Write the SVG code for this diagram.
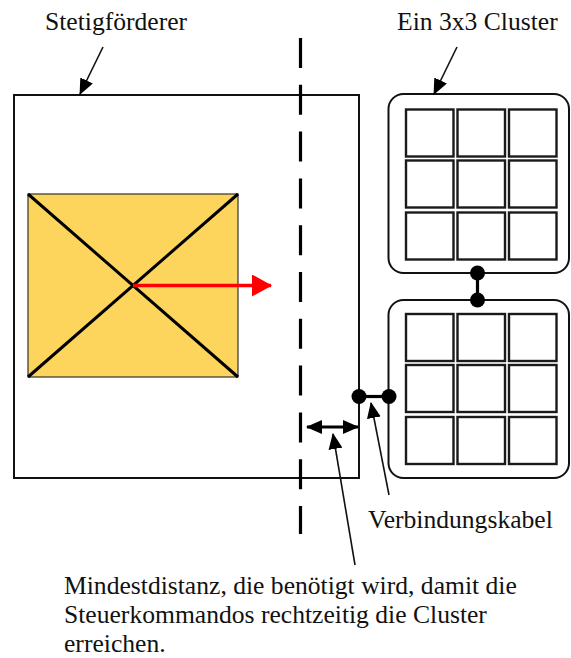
<svg xmlns="http://www.w3.org/2000/svg" width="571" height="658" viewBox="0 0 571 658">
  <style>
    text { font-family: "Liberation Serif", "DejaVu Serif", "Times New Roman", serif; }
    .lbl { font-size: 25.6px; fill: #111; }
    .frame { fill: #fff; stroke: #111; stroke-width: 2; }
    .cell { fill: #fff; stroke: #1a1a1a; stroke-width: 2.4; }
    .ptr { fill: none; stroke: #111; stroke-width: 1.6; }
    .bold { fill: none; stroke: #000; stroke-width: 3.2; }
    .dot { fill: #000; }
  </style>
  <defs>
    <marker id="head" viewBox="0 0 16 14" refX="15" refY="7" markerWidth="16" markerHeight="14" markerUnits="userSpaceOnUse" orient="auto-start-reverse">
      <path d="M0,0 L16,7 L0,14 z" fill="#000"/>
    </marker>
    <marker id="redhead" viewBox="0 0 20 22" refX="19" refY="11" markerWidth="20" markerHeight="22" markerUnits="userSpaceOnUse" orient="auto">
      <path d="M0,0 L20,11 L0,22 z" fill="#ff0000"/>
    </marker>
    <g id="grid">
      <rect class="cell" x="0" y="0" width="47.5" height="47"/>
      <rect class="cell" x="51.5" y="0" width="47.5" height="47"/>
      <rect class="cell" x="103" y="0" width="47.5" height="47"/>
      <rect class="cell" x="0" y="51" width="47.5" height="47"/>
      <rect class="cell" x="51.5" y="51" width="47.5" height="47"/>
      <rect class="cell" x="103" y="51" width="47.5" height="47"/>
      <rect class="cell" x="0" y="103" width="47.5" height="47"/>
      <rect class="cell" x="51.5" y="103" width="47.5" height="47"/>
      <rect class="cell" x="103" y="103" width="47.5" height="47"/>
    </g>
  </defs>

  <rect width="571" height="658" fill="#fff"/>

  <!-- conveyor -->
  <g id="conveyor">
    <rect class="frame" x="14" y="95" width="345" height="383"/>
    <g id="load">
      <rect x="28" y="194" width="210" height="183" fill="#fdd55d" stroke="#333" stroke-width="1.2"/>
      <line x1="28" y1="194" x2="238" y2="377" stroke="#000" stroke-width="3"/>
      <line x1="238" y1="194" x2="28" y2="377" stroke="#000" stroke-width="3"/>
    </g>
    <line x1="133" y1="285.5" x2="271" y2="285.5" stroke="#ff0000" stroke-width="3.5" marker-end="url(#redhead)"/>
  </g>

  <!-- boundary line -->
  <g id="boundary">
    <line x1="300.5" y1="38" x2="300.5" y2="534" stroke="#000" stroke-width="3.2" stroke-dasharray="30 16.8"/>
  </g>

  <!-- cluster 1 -->
  <g id="cluster-top">
    <rect class="frame" x="388.5" y="94" width="180.5" height="179" rx="15"/>
    <use href="#grid" x="406" y="109.5"/>
  </g>

  <!-- cluster 2 -->
  <g id="cluster-bottom">
    <rect class="frame" x="388.5" y="300" width="180.5" height="178" rx="15"/>
    <use href="#grid" x="406" y="314"/>
  </g>

  <!-- connectors -->
  <g id="connectors">
    <line class="bold" x1="477.5" y1="273" x2="477.5" y2="300"/>
    <circle class="dot" cx="477.5" cy="273" r="7.5"/>
    <circle class="dot" cx="477.5" cy="300" r="7.5"/>
    <line class="bold" x1="359" y1="396.5" x2="389" y2="396.5"/>
    <circle class="dot" cx="359" cy="396.5" r="7.5"/>
    <circle class="dot" cx="389" cy="396.5" r="7.5"/>
    <line class="bold" x1="307" y1="427" x2="358" y2="427" marker-start="url(#head)" marker-end="url(#head)"/>
    <line class="ptr" x1="103" y1="47" x2="80" y2="94" marker-end="url(#head)"/>
    <line class="ptr" x1="457" y1="47" x2="434" y2="94" marker-end="url(#head)"/>
    <line class="ptr" x1="389" y1="495" x2="371" y2="403" marker-end="url(#head)"/>
    <line class="ptr" x1="355" y1="565" x2="333" y2="434" marker-end="url(#head)"/>
  </g>

  <!-- labels -->
  <g id="labels">
    <text class="lbl" x="45" y="30" font-family="Liberation Serif, serif">Stetigförderer</text>
    <text class="lbl" x="397" y="30" font-family="Liberation Serif, serif">Ein 3x3 Cluster</text>
    <text class="lbl" x="368" y="528" font-family="Liberation Serif, serif">Verbindungskabel</text>
    <text class="lbl" x="64" y="594" font-family="Liberation Serif, serif">Mindestdistanz, die benötigt wird, damit die</text>
    <text class="lbl" x="64" y="623" font-family="Liberation Serif, serif">Steuerkommandos rechtzeitig die Cluster</text>
    <text class="lbl" x="64" y="652" font-family="Liberation Serif, serif">erreichen.</text>
  </g>
</svg>
